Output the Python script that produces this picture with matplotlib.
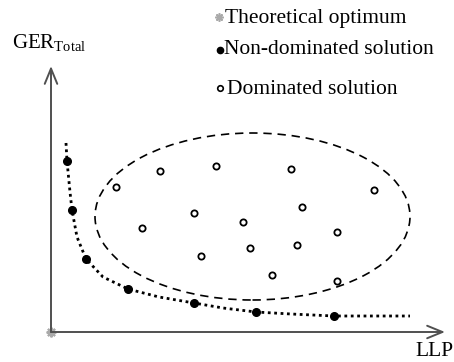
import matplotlib
matplotlib.use("Agg")
import matplotlib.pyplot as plt
from matplotlib.patches import Ellipse

# Pareto front (LLP, GER_Total), arbitrary units
front_llp = [16, 21, 35, 77, 143, 205, 283]
front_ger = [171, 122, 73, 43, 29, 20, 16]

# trend line drawn along the front
trend_llp = [15, 16, 19, 21, 26, 35, 52, 77, 108, 143, 172, 205, 240, 283, 359]
trend_ger = [189, 171, 140, 122, 95, 73, 55, 43, 35, 29, 24, 20, 18, 16, 16]

# dominated solutions
dom_llp = [65, 109, 165, 240, 323, 143, 251, 91, 192, 286, 150, 199, 246, 221, 286]
dom_ger = [145, 161, 166, 163, 142, 119, 125, 104, 110, 100, 76, 84, 87, 57, 51]

# region enclosing the dominated set
region_center = (201.5, 115.5)
region_width = 315
region_height = 167

optimum = (0, 0)

plt.rcParams["font.family"] = ["Liberation Serif", "DejaVu Serif"]
fs = 15.5

fig = plt.figure(figsize=(4.54, 3.62), dpi=100)
ax = fig.add_axes([0, 0, 1, 1])
ax.set_xlim(-51, 403)
ax.set_ylim(-30, 332)
ax.axis("off")

axis_col = "#505050"
arrow = dict(arrowstyle="->,head_length=1.1,head_width=0.45",
             color=axis_col, lw=1.4, shrinkA=0, shrinkB=0)
ax.annotate("", xy=(394, 0), xytext=(0, 0), arrowprops=arrow)
ax.annotate("", xy=(0, 266), xytext=(0, 0), arrowprops=arrow)

ax.add_patch(Ellipse(region_center, region_width, region_height, fill=False,
                     ls=(0, (5, 3.5)), lw=1.2, color="black"))

ax.plot(trend_llp, trend_ger, ls=(0, (1, 1.3)), lw=2.0, color="black")
ax.plot(front_llp, front_ger, "o", ms=5.5, color="black")
ax.plot(dom_llp, dom_ger, "o", ms=4.5, mfc="white", mec="black", mew=1.3)
ax.plot(*optimum, marker=(8, 2, 0), ms=7, color="#aaaaaa", mew=1.5)

ax.text(-39, 289, "GER$_{\\mathregular{Total}}$", fontsize=15, va="center")
ax.text(364, -19, "LLP", fontsize=fs, va="center")

# legend entries
ax.plot(168, 315, marker=(8, 2, 0), ms=6, color="#aaaaaa", mew=1.2)
ax.text(174, 314, "Theoretical optimum", fontsize=fs, va="center")
ax.plot(169, 282, "o", ms=4.5, color="black")
ax.text(173, 282, "Non-dominated solution", fontsize=fs, va="center")
ax.plot(169, 244, "o", ms=4, mfc="white", mec="black", mew=1.2)
ax.text(176, 242, "Dominated solution", fontsize=fs, va="center")

fig.savefig("out.png", dpi=100)
